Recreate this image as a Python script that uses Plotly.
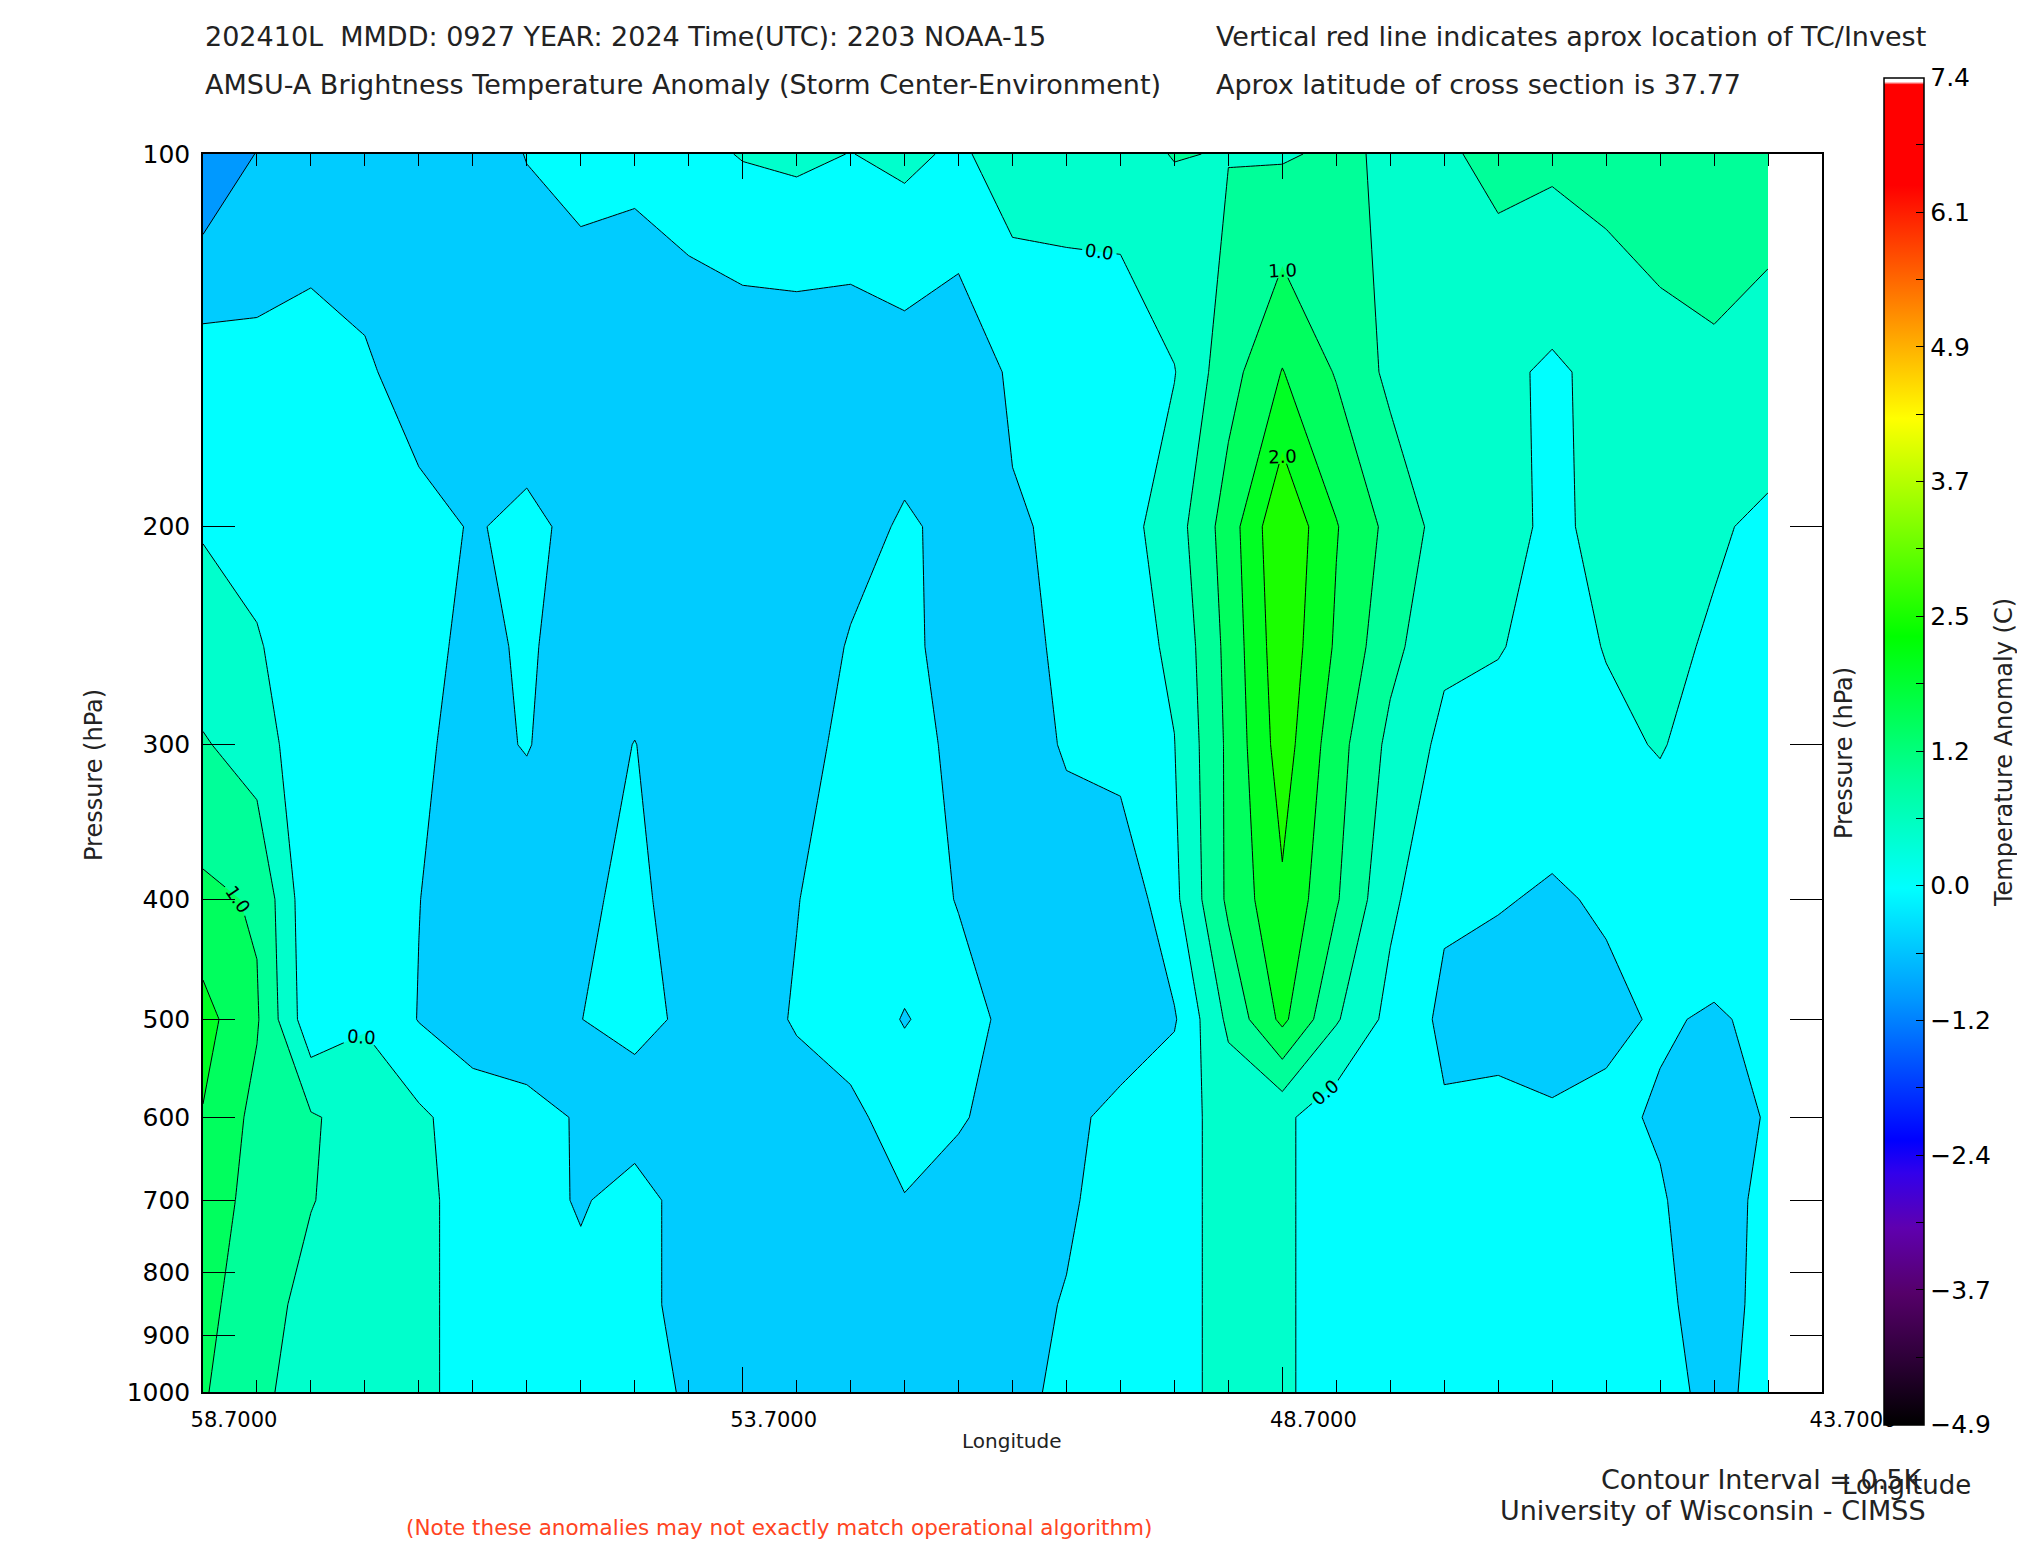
import numpy as np
import plotly.graph_objects as go

# AMSU-A brightness temperature anomaly cross section (storm center - environment)

LONGITUDE = [58.7, 58.2, 57.7, 57.2, 56.7, 56.2, 55.7, 55.2, 54.7, 54.2,
             53.7, 53.2, 52.7, 52.2, 51.7, 51.2, 50.7, 50.2, 49.7, 49.2,
             48.7, 48.2, 47.7, 47.2, 46.7, 46.2, 45.7, 45.2, 44.7, 44.2]
PRESSURE = [100, 150, 200, 250, 300, 400, 500, 600, 700, 850, 1000]

# anomaly (C) per pressure level, west -> east as in LONGITUDE
T100 = [-1.45, -0.98, -0.85, -0.8, -0.75, -0.65, -0.49, -0.35, -0.42, -0.15,
        0.03, 0.1, -0.01, 0.115, -0.087, 0.26, 0.3, 0.35, 0.52, 0.48,
        0.45, 0.58, 0.435, 0.42, 0.65, 0.6, 0.7, 0.72, 0.75, 0.7]
T150 = [-0.23, -0.34, -0.28, -0.44, -0.69, -0.75, -0.71, -0.8, -0.74, -0.9,
        -0.85, -0.85, -0.83, -0.74, -0.84, -0.42, -0.4, -0.41, -0.02, 0.8,
        1.52, 0.96, 0.378, 0.2, 0.1, -0.07, 0.12, 0.36, 0.43, 0.32]
T200 = [-0.03, -0.2, -0.25, -0.3, -0.38, -0.525, -0.43, -0.58, -0.7, -0.75,
        -0.75, -0.7, -0.65, -0.45, -0.6, -0.55, -0.42, -0.2, 0.265, 1.24,
        2.45, 1.53, 0.85, 0.3, 0.1, -0.056, 0.074, 0.15, 0.055, -0.09]
T250 = [0.18, 0.05, -0.35, -0.3, -0.4, -0.58, -0.46, -0.64, -0.7, -0.75,
        -0.8, -0.75, -0.466, -0.3, -0.83, -0.7, -0.38, -0.2, 0.078, 1.15,
        2.35, 1.43, 0.65, 0.1, 0.03, -0.18, 0.02, 0.1, -0.05, -0.15]
T300 = [0.55, 0.25, -0.35, -0.3, -0.45, -0.6, -0.48, -0.7, -0.49, -0.75,
        -0.8, -0.7, -0.35, -0.25, -0.65, -0.7, -0.46, -0.3, -0.01, 1.1,
        2.25, 1.2, 0.37, -0.123, -0.2, -0.25, -0.1, 0.03, -0.2, -0.2]
T400 = [1.11, 0.95, -0.4, -0.3, -0.49, -0.8, -0.75, -0.613, -0.35, -0.8,
        -0.85, -0.52, -0.2, -0.3, -0.52, -0.65, -0.7, -0.9, -0.12, 1.1,
        1.92, 1.05, 0.1, -0.43, -0.47, -0.55, -0.45, -0.3, -0.2, -0.15]
T500 = [1.69, 1.05, -0.35, -0.05, -0.52, -0.75, -0.7, -0.505, -0.36, -0.59,
        -0.75, -0.45, -0.3, -0.52, -0.35, -0.6, -0.7, -0.75, -0.55, 0.61,
        1.62, 0.55, -0.15, -0.6, -0.7, -0.7, -0.6, -0.45, -0.55, -0.4]
T600 = [1.47, 0.85, 0.55, 0.3, 0.09, -0.25, -0.4, -0.528, -0.75, -0.75,
        -0.8, -0.75, -0.6, -0.3, -0.45, -0.7, -0.6, -0.38, -0.15, 0.14,
        0.1, -0.3, -0.3, -0.45, -0.35, -0.45, -0.4, -0.55, -0.8, -0.45]
T700 = [1.3, 0.8, 0.52, 0.3, 0.1, -0.16, -0.3, -0.55, -0.3, -0.7,
        -0.75, -0.7, -0.7, -0.52, -0.7, -0.7, -0.55, -0.35, -0.15, 0.14,
        0.1, -0.3, -0.3, -0.3, -0.3, -0.35, -0.4, -0.46, -0.75, -0.35]
T850 = [1.15, 0.7, 0.35, 0.3, 0.1, -0.16, -0.3, -0.35, -0.35, -0.65,
        -0.7, -0.7, -0.7, -0.7, -0.7, -0.6, -0.48, -0.3, -0.15, 0.14,
        0.1, -0.3, -0.3, -0.3, -0.3, -0.3, -0.35, -0.4, -0.7, -0.35]
T1000 = [1.05, 0.6, 0.3, 0.3, 0.1, -0.16, -0.3, -0.3, -0.3, -0.56,
         -0.65, -0.7, -0.7, -0.7, -0.65, -0.6, -0.42, -0.3, -0.15, 0.14,
         0.1, -0.3, -0.3, -0.3, -0.3, -0.3, -0.3, -0.35, -0.62, -0.35]

PRESSURE_TICKS = [100, 200, 300, 400, 500, 600, 700, 800, 900, 1000]
LON_TICKS = [58.7, 53.7, 48.7, 43.7]
LON_LABELS = ["58.7000", "53.7000", "48.7000", "43.7000"]
CBAR_MIN, CBAR_MAX = -4.9, 7.4
CBAR_LABELS = ["\u22124.9", "\u22123.7", "\u22122.4", "\u22121.2", "0.0",
               "1.2", "2.5", "3.7", "4.9", "6.1", "7.4"]

FONT = "DejaVu Sans"
W, H = 2025, 1550
PAGE_OFFSET = 8  # default body margin of the html page


def fx(px):
    return (px - PAGE_OFFSET) / W


def fy(py):
    return 1 - (py - PAGE_OFFSET) / H


# IDL-like colour table: black -> purple -> blue -> cyan -> green -> yellow -> red
CMAP = [(-4.9, (0, 0, 0)), (-4.3, (45, 0, 55)), (-3.7, (85, 0, 105)),
        (-3.1, (95, 0, 175)), (-2.6, (50, 0, 235)), (-2.3, (0, 0, 255)),
        (-1.0, (0, 153, 255)), (0.0, (0, 255, 255)), (1.0, (0, 255, 153)),
        (2.3, (0, 255, 0)), (4.29, (255, 255, 0)),
        (6.42, (255, 0, 0)), (7.34, (255, 0, 0))]


def cmap(v):
    vs = [s[0] for s in CMAP]
    rgb = [int(round(np.interp(v, vs, [s[1][i] for s in CMAP]))) for i in range(3)]
    return f"rgb({rgb[0]},{rgb[1]},{rgb[2]})"


cbar_scale = [[(v - CBAR_MIN) / (CBAR_MAX - CBAR_MIN), cmap(v)] for v, _ in CMAP]
cbar_scale += [[0.9972, "rgb(255,255,255)"], [1.0, "rgb(255,255,255)"]]

# each filled band takes the colour of its upper contour level
LEV_START, LEV_END, LEV_SIZE = -1.5, 3.0, 0.5
n_lev = int(round((LEV_END - LEV_START) / LEV_SIZE)) + 1
fill_scale = [[j / n_lev, cmap(LEV_START + LEV_SIZE * j)] for j in range(n_lev + 1)]

z = [T100, T150, T200, T250, T300, T400, T500, T600, T700, T850, T1000]

fig = go.Figure()
fig.add_trace(go.Contour(
    x=LONGITUDE, y=PRESSURE, z=z, autocontour=False,
    contours=dict(start=LEV_START, end=LEV_END, size=LEV_SIZE,
                  coloring="fill", showlines=False),
    colorscale=fill_scale, line=dict(width=0, smoothing=0),
    showscale=False, hoverinfo="skip",
))
# unlabeled half-degree contours
fig.add_trace(go.Contour(
    x=LONGITUDE, y=PRESSURE, z=z, autocontour=False,
    contours=dict(start=-1.5, end=2.5, size=1.0, coloring="none"),
    line=dict(color="black", width=1.0, smoothing=0),
    showscale=False, hoverinfo="skip",
))
# labeled whole-degree contours
fig.add_trace(go.Contour(
    x=LONGITUDE, y=PRESSURE, z=z, autocontour=False,
    contours=dict(start=-1.0, end=2.0, size=1.0, coloring="none",
                  showlabels=True, labelformat=".1f",
                  labelfont=dict(size=18, color="black", family=FONT)),
    line=dict(color="black", width=1.0, smoothing=0),
    showscale=False, hoverinfo="skip",
))

# stand-alone colour bar
cb_vals = list(np.linspace(CBAR_MIN, CBAR_MAX, 21))
cb_text = [CBAR_LABELS[i // 2] if i % 2 == 0 else "" for i in range(21)]
fig.add_trace(go.Scatter(
    x=[None], y=[None], mode="markers", showlegend=False, hoverinfo="skip",
    marker=dict(
        color=[0], colorscale=cbar_scale, cmin=CBAR_MIN, cmax=CBAR_MAX,
        showscale=True,
        colorbar=dict(
            x=fx(1884), xanchor="left", xpad=0, y=fy(751), yanchor="middle", ypad=0,
            thickness=40, thicknessmode="pixels", len=1347, lenmode="pixels",
            outlinewidth=1.5, outlinecolor="black",
            tickmode="array", tickvals=cb_vals, ticktext=cb_text,
            ticks="inside", ticklen=8, tickcolor="black", tickwidth=1.2,
            tickfont=dict(size=25, family=FONT, color="black"),
        ),
    ),
))

axis_common = dict(
    showline=True, linecolor="black", linewidth=1.5, mirror="ticks",
    showgrid=False, zeroline=False, ticks="inside", tickcolor="black",
    automargin=False,
)
fig.update_xaxes(
    domain=[fx(203), fx(1822)], range=[58.7, 43.7],
    tickmode="array", tickvals=LON_TICKS, ticktext=LON_LABELS,
    ticklen=25, tickwidth=1.3, ticklabelshift=-31, ticklabelstandoff=8,
    tickfont=dict(size=21, family=FONT, color="black"),
    minor=dict(tickmode="linear", tick0=58.7, dtick=0.5, ticks="inside",
               ticklen=12, tickcolor="black", tickwidth=1.3),
    **axis_common,
)
# pressure decreases upward: log axis from 1000 (bottom) to 100 (top)
fig.update_yaxes(
    type="log", domain=[fy(1392), fy(154)], range=[3, 2],
    tickmode="array", tickvals=PRESSURE_TICKS,
    ticktext=[str(p) for p in PRESSURE_TICKS],
    ticklen=32, tickwidth=1.3, ticklabelstandoff=6,
    tickfont=dict(size=25, family=FONT, color="black"),
    **axis_common,
)


def label(text, x, y, size=27, anchor="left", angle=0, color="#222222"):
    fig.add_annotation(
        text=text, x=fx(x), y=fy(y), xref="paper", yref="paper",
        xanchor=anchor, yanchor="middle", showarrow=False, textangle=angle,
        font=dict(size=size, family=FONT, color=color),
    )


label("202410L  MMDD: 0927 YEAR: 2024 Time(UTC): 2203 NOAA-15", 203, 37)
label("AMSU-A Brightness Temperature Anomaly (Storm Center-Environment)", 203, 84)
label("Vertical red line indicates aprox location of TC/Invest", 1214, 37)
label("Aprox latitude of cross section is 37.77", 1214, 84)
label("Pressure (hPa)", 94, 775, size=24, anchor="center", angle=-90)
label("Pressure (hPa)", 1844, 753, size=24, anchor="center", angle=-90)
label("Temperature Anomaly (C)", 2004, 753, size=24, anchor="center", angle=-90)
label("Longitude", 1011, 1441, size=20, anchor="center")
label("Contour Interval = 0.5K", 1599, 1479)
label("Longitude", 1840, 1485, size=26)
label("University of Wisconsin - CIMSS", 1498, 1510)
label("(Note these anomalies may not exactly match operational algorithm)",
      404, 1527, size=21.5, color="#ff4422")

fig.update_layout(
    width=W, height=H, autosize=False, showlegend=False,
    margin=dict(l=0, r=0, t=0, b=0, pad=0, autoexpand=False),
    paper_bgcolor="white", plot_bgcolor="white",
)

fig.write_html("out.html")
